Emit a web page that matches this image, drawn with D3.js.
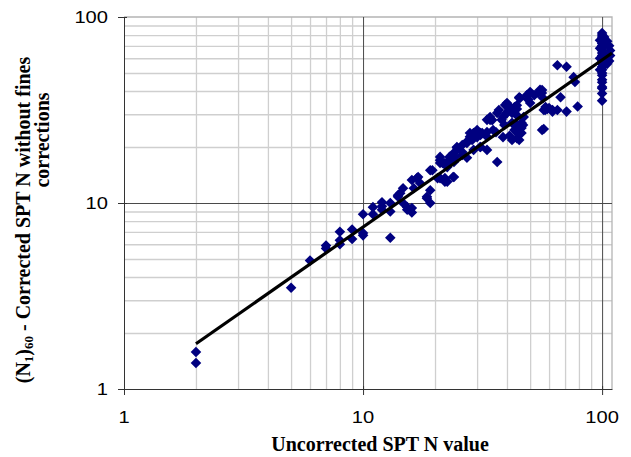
<!DOCTYPE html>
<html>
<head>
<meta charset="utf-8">
<script src="https://cdn.jsdelivr.net/npm/d3@7"></script>
<style>
  body { margin: 0; background: #fff; }
</style>
</head>
<body>
<script>
var chartWidth = 631,
    chartHeight = 457;

var plotLeft = 124, plotRight = 612,
    plotTop = 17, plotBottom = 389;

// uncorrected SPT N (x) and (N1)60 (y)
var uncorrectedN = [
  2, 2, 5, 6, 7, 7, 8, 8, 8, 9, 9, 10, 10, 10, 11, 11, 12, 12, 12, 13, 13, 13,
  14, 14, 14.7, 15.3, 15.3, 16, 16, 14.7, 16, 16.3, 16.8, 17.3, 17, 14.3, 18.5, 18.5, 19.1, 19.1,
  19.1, 21, 21, 22, 22.5, 21, 22.5, 23.8, 22, 23.1, 24.3, 26, 24.7, 27.2, 28.6, 27.2, 30, 31.5,
  33, 30.9, 33, 36.4, 34.7, 36.4, 38.5, 39.3, 41.2, 40.1, 42, 38.5, 42, 45.4, 48.5, 50, 54, 56.6,
  46.7, 56.1, 57.8, 56.1,
  40, 44, 47, 42, 44, 41, 34, 35, 33, 31, 29, 28, 27, 26, 24.7, 24, 26, 23, 21, 21.5, 22.7, 24,
  19.5, 20.5, 22, 24, 29, 31,
  65, 55, 50, 45, 40, 49, 59, 62, 57, 44, 43, 40, 37, 34, 33, 38, 39, 36, 30, 28, 31, 43, 46, 46,
  71, 76, 77, 67, 79, 71, 65, 60, 62, 57, 58, 55, 56, 50, 52, 45, 43, 42, 44, 46, 44, 43, 44, 45,
  100, 100, 100, 100, 100, 100, 100, 100, 100, 100, 100, 100, 100, 100, 100, 100, 100, 100,
  100, 100, 100, 100, 100, 100, 98, 98, 98, 98, 102, 102, 102, 102, 105, 107, 108, 108, 107, 105
];
var correctedN = [
  1.58, 1.38, 3.5, 4.9, 5.9, 5.7, 7.0, 6.3, 6.0, 7.2, 6.4, 8.7, 6.9, 6.7, 9.5, 8.7, 10.1, 9.6, 9.2, 10.0, 9.0, 6.5,
  11.0, 10.8, 10.0, 9.5, 9.2, 9.4, 8.9, 12.0, 13.3, 12.0, 13.6, 12.8, 13.8, 11.3, 10.8, 10.6, 10.0, 11.7,
  15.0, 16.4, 13.6, 13.0, 15.6, 17.0, 13.0, 13.8, 16.4, 17.0, 17.7, 18.8, 19.8, 21.0, 21.8, 17.5, 22.6, 23.8,
  24.1, 20.0, 19.3, 16.6, 27.9, 30.5, 29.0, 33.6, 32.8, 30.8, 30.5, 22.6, 21.8, 36.7, 38.1, 34.5, 39.0, 36.7,
  26.3, 40.5, 31.6, 24.7,
  34, 33.5, 29, 27, 24, 23, 28, 24.7, 22.7, 23.8, 23.8, 22.7, 21.2, 20.5, 20, 18.6, 18.1, 17.7, 17.7, 16.4, 16.6, 16.6,
  15, 13.6, 13.6, 13.8, 19.3, 20,
  55, 40, 39, 37, 34.5, 36, 32, 31.6, 25, 32, 30.5, 30.5, 31.6, 29, 28, 28, 26.3, 24, 24.7, 23.8, 23.2, 26.3, 25.3, 23.8,
  54, 47.5, 44.7, 37, 33, 31, 31.6, 32.4, 31, 31.6, 32.8, 40.6, 39, 39.5, 38, 36.7, 32.8, 31.6, 29.6, 27, 26.3, 24.7, 22.3, 21.8,
  82, 80, 78, 76, 74, 72, 70, 68, 66, 64, 62, 60, 58, 56, 54, 52, 50, 48.6,
  46, 44.6, 42, 41.4, 38.8, 35.5, 75, 68, 60, 52, 78, 70, 63, 55, 74, 70, 66, 62, 58, 56
];

// power trendline, straight on log-log axes
var trendN = [2, 110];
var trendN160 = [1.75, 64];

var xTicks = [1, 10, 100];
var yTicks = [1, 10, 100];
var minorTicks = [2, 3, 4, 5, 6, 7, 8, 9, 20, 30, 40, 50, 60, 70, 80, 90];

var svg = d3.select('body')
            .append('svg')
              .attr('xmlns', 'http://www.w3.org/2000/svg')
              .attr('width', chartWidth)
              .attr('height', chartHeight);

var x = d3.scaleLog().domain([1, 110]).range([plotLeft, plotRight]);
var y = d3.scaleLog().domain([1, 100]).range([plotBottom, plotTop]);

function grid(g, colour, width) {
  g.select('.domain').remove();
  g.selectAll('.tick line').attr('stroke', colour).attr('stroke-width', width);
}

// minor grid
svg.append('g')
    .attr('transform', 'translate(0,' + plotBottom + ')')
    .call(d3.axisBottom(x).tickValues(minorTicks).tickSize(-(plotBottom - plotTop)).tickFormat(''))
    .call(grid, '#cfcfcf', 1.3);

svg.append('g')
    .attr('transform', 'translate(' + plotLeft + ',0)')
    .call(d3.axisLeft(y).tickValues(minorTicks).tickSize(-(plotRight - plotLeft)).tickFormat(''))
    .call(grid, '#cfcfcf', 1.3);

// plot border (top / right)
svg.append('path')
    .attr('d', 'M' + plotLeft + ',' + plotTop + 'H' + plotRight + 'V' + plotBottom)
    .attr('fill', 'none').attr('stroke', '#b4b4b4').attr('stroke-width', 1.3);

// major grid
svg.append('g')
    .attr('transform', 'translate(0,' + plotBottom + ')')
    .call(d3.axisBottom(x).tickValues([10, 100]).tickSize(-(plotBottom - plotTop)).tickFormat(''))
    .call(grid, '#4a4a4a', 1);

svg.append('g')
    .attr('transform', 'translate(' + plotLeft + ',0)')
    .call(d3.axisLeft(y).tickValues([10]).tickSize(-(plotRight - plotLeft)).tickFormat(''))
    .call(grid, '#4a4a4a', 1);

// axes, ticks cross the axis line
var xAxis = svg.append('g')
    .attr('transform', 'translate(0,' + plotBottom + ')')
    .call(d3.axisBottom(x).tickValues(xTicks).tickSizeInner(6).tickSizeOuter(0).tickFormat(''));
xAxis.selectAll('.tick line').attr('y1', -3);

var yAxis = svg.append('g')
    .attr('transform', 'translate(' + plotLeft + ',0)')
    .call(d3.axisLeft(y).tickValues(yTicks).tickSizeInner(6).tickSizeOuter(0).tickFormat(''));
yAxis.selectAll('.tick line').attr('x1', 3);

[xAxis, yAxis].forEach(function(a) {
  a.selectAll('.domain, .tick line').attr('stroke', '#333');
});

// tick labels, the source font is drawn a bit wide
svg.append('g').selectAll('text')
    .data(xTicks).enter().append('text')
      .attr('x', function(d) { return x(d); })
      .attr('y', plotBottom + 34)
      .attr('text-anchor', 'middle')
      .attr('font-family', 'Liberation Sans, Arial, sans-serif')
      .attr('font-size', 17)
      .attr('textLength', function(d) { return String(d).length * 11.2; })
      .attr('lengthAdjust', 'spacingAndGlyphs')
      .text(function(d) { return d; });

svg.append('g').selectAll('text')
    .data(yTicks).enter().append('text')
      .attr('x', 108)
      .attr('y', function(d) { return y(d) + 6; })
      .attr('text-anchor', 'end')
      .attr('font-family', 'Liberation Sans, Arial, sans-serif')
      .attr('font-size', 17)
      .attr('textLength', function(d) { return String(d).length * 11.2; })
      .attr('lengthAdjust', 'spacingAndGlyphs')
      .text(function(d) { return d; });

// points
var diamond = 'M0,-5.3L5.3,0L0,5.3L-5.3,0Z';
svg.append('g').selectAll('path')
    .data(d3.range(uncorrectedN.length)).enter().append('path')
      .attr('d', diamond)
      .attr('transform', function(i) { return 'translate(' + x(uncorrectedN[i]) + ',' + y(correctedN[i]) + ')'; })
      .attr('fill', '#000080');

// trendline
var line = d3.line()
    .x(function(i) { return x(trendN[i]); })
    .y(function(i) { return y(trendN160[i]); });
svg.append('path')
    .attr('d', line(d3.range(trendN.length)))
    .attr('fill', 'none')
    .attr('stroke', '#000')
    .attr('stroke-width', 3.2);

// titles
svg.append('text')
    .attr('x', 380)
    .attr('y', 451)
    .attr('text-anchor', 'middle')
    .attr('font-family', 'Liberation Serif, Times New Roman, serif')
    .attr('font-weight', 'bold')
    .attr('font-size', 20)
    .text('Uncorrected SPT N value');

var yTitle = svg.append('text')
    .attr('transform', 'translate(30,220) rotate(-90)')
    .attr('text-anchor', 'middle')
    .attr('font-family', 'Liberation Serif, Times New Roman, serif')
    .attr('font-weight', 'bold')
    .attr('font-size', 20);
yTitle.append('tspan').text('(N');
yTitle.append('tspan').attr('font-size', 13).attr('dy', 3).text('1');
yTitle.append('tspan').attr('dy', -3).text(')');
yTitle.append('tspan').attr('font-size', 13).attr('dy', 3).text('60');
yTitle.append('tspan').attr('dy', -3).text(' - Corrected SPT N without fines');

svg.append('text')
    .attr('transform', 'translate(49,140) rotate(-90)')
    .attr('text-anchor', 'middle')
    .attr('font-family', 'Liberation Serif, Times New Roman, serif')
    .attr('font-weight', 'bold')
    .attr('font-size', 20)
    .text('corrections');
</script>
</body>
</html>
